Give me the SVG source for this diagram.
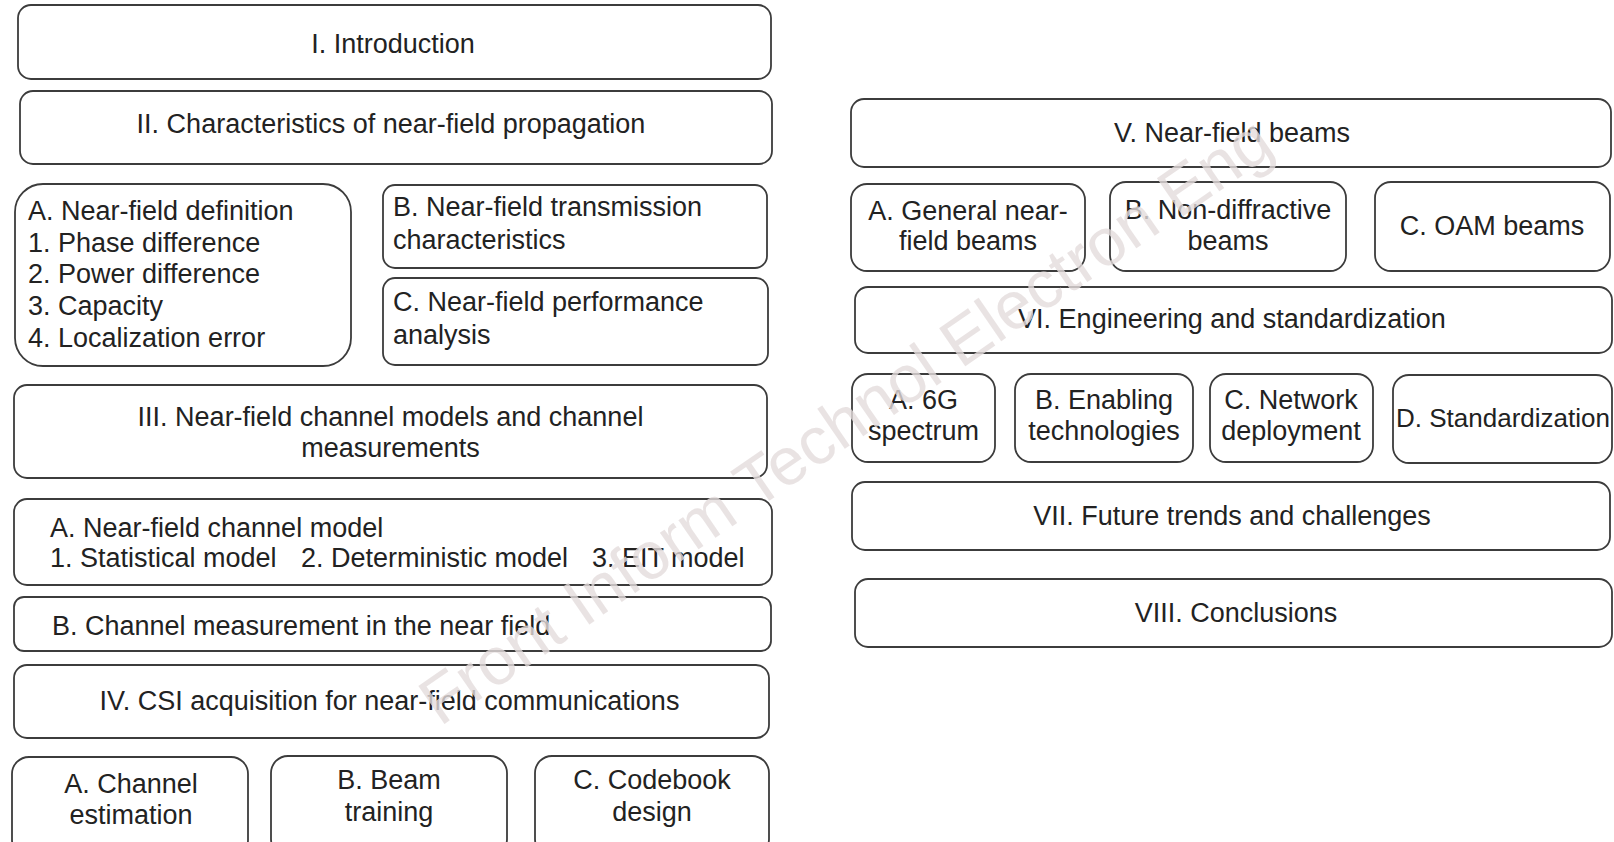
<svg xmlns="http://www.w3.org/2000/svg" width="1614" height="842" viewBox="0 0 1614 842">
<style>
.box{fill:#fff;stroke:#3c3c3c;stroke-width:1.8}
text{font-family:"Liberation Sans",Arial,sans-serif;font-size:27px;fill:#222}
.c{text-anchor:middle}
.wm{font-size:67px;fill:#e4dcdc;fill-opacity:0.8}
</style>
<rect width="1614" height="842" fill="#fff"/>
<g id="connectors"/>
<g id="n-intro"><rect class="box" x="18" y="5" width="753" height="74" rx="13"/><text class="c" x="393" y="53">I. Introduction</text></g>
<g id="n-ii"><rect class="box" x="20" y="91" width="752" height="73" rx="13"/><text class="c" x="391" y="133">II. Characteristics of near-field propagation</text></g>
<g id="n-ii-a"><rect class="box" x="15" y="184" width="336" height="182" rx="28"/>
<text x="28" y="220">A. Near-field definition</text>
<text x="28" y="252">1. Phase difference</text>
<text x="28" y="283">2. Power difference</text>
<text x="28" y="315">3. Capacity</text>
<text x="28" y="347">4. Localization error</text></g>
<g id="n-ii-b"><rect class="box" x="383" y="185" width="384" height="83" rx="12"/><text x="393" y="216">B. Near-field transmission</text><text x="393" y="249">characteristics</text></g>
<g id="n-ii-c"><rect class="box" x="383" y="278" width="385" height="87" rx="12"/><text x="393" y="311">C. Near-field performance</text><text x="393" y="344">analysis</text></g>
<g id="n-iii"><rect class="box" x="14" y="385" width="753" height="93" rx="13"/><text class="c" x="390.5" y="426">III. Near-field channel models and channel</text><text class="c" x="390.5" y="457">measurements</text></g>
<g id="n-iii-a"><rect class="box" x="14" y="499" width="758" height="86" rx="13"/><text x="50" y="537">A. Near-field channel model</text><text y="567"><tspan x="50">1. Statistical model</tspan><tspan x="301">2. Deterministic model</tspan><tspan x="592">3. EIT model</tspan></text></g>
<g id="n-iii-b"><rect class="box" x="14" y="597" width="757" height="54" rx="10"/><text x="52" y="635">B. Channel measurement in the near field</text></g>
<g id="n-iv"><rect class="box" x="14" y="665" width="755" height="73" rx="13"/><text class="c" x="389.5" y="710">IV. CSI acquisition for near-field communications</text></g>
<g id="n-iv-a"><rect class="box" x="12" y="757" width="236" height="100" rx="17"/><text class="c" x="131" y="793">A. Channel</text><text class="c" x="131" y="824">estimation</text></g>
<g id="n-iv-b"><rect class="box" x="271" y="756" width="236" height="100" rx="17"/><text class="c" x="389" y="789">B. Beam</text><text class="c" x="389" y="821">training</text></g>
<g id="n-iv-c"><rect class="box" x="535" y="756" width="234" height="100" rx="17"/><text class="c" x="652" y="789">C. Codebook</text><text class="c" x="652" y="821">design</text></g>
<g id="n-v"><rect class="box" x="851" y="99" width="760" height="68" rx="13"/><text class="c" x="1232" y="142">V. Near-field beams</text></g>
<g id="n-v-a"><rect class="box" x="851" y="184" width="234" height="87" rx="16"/><text class="c" x="968" y="220">A. General near-</text><text class="c" x="968" y="250">field beams</text></g>
<g id="n-v-b"><rect class="box" x="1110" y="182" width="236" height="89" rx="16"/><text class="c" x="1228" y="219">B. Non-diffractive</text><text class="c" x="1228" y="250">beams</text></g>
<g id="n-v-c"><rect class="box" x="1375" y="182" width="235" height="89" rx="16"/><text class="c" x="1492" y="235">C. OAM beams</text></g>
<g id="n-vi"><rect class="box" x="855" y="287" width="757" height="66" rx="13"/><text class="c" x="1232" y="328">VI. Engineering and standardization</text></g>
<g id="n-vi-a"><rect class="box" x="852" y="374" width="143" height="88" rx="16"/><text class="c" x="923.5" y="409">A. 6G</text><text class="c" x="923.5" y="440">spectrum</text></g>
<g id="n-vi-b"><rect class="box" x="1015" y="374" width="178" height="88" rx="16"/><text class="c" x="1104" y="409">B. Enabling</text><text class="c" x="1104" y="440">technologies</text></g>
<g id="n-vi-c"><rect class="box" x="1210" y="374" width="163" height="88" rx="16"/><text class="c" x="1291" y="409">C. Network</text><text class="c" x="1291" y="440">deployment</text></g>
<g id="n-vi-d"><rect class="box" x="1393" y="375" width="219" height="88" rx="16"/><text class="c" x="1503" y="427" style="font-size:26px">D. Standardization</text></g>
<g id="n-vii"><rect class="box" x="852" y="482" width="758" height="68" rx="13"/><text class="c" x="1232" y="525">VII. Future trends and challenges</text></g>
<g id="n-viii"><rect class="box" x="855" y="579" width="757" height="68" rx="13"/><text class="c" x="1236" y="622">VIII. Conclusions</text></g>
<text class="wm" transform="translate(440,727) rotate(-34.5)">Front Inform Technol Electron Eng</text>
</svg>
